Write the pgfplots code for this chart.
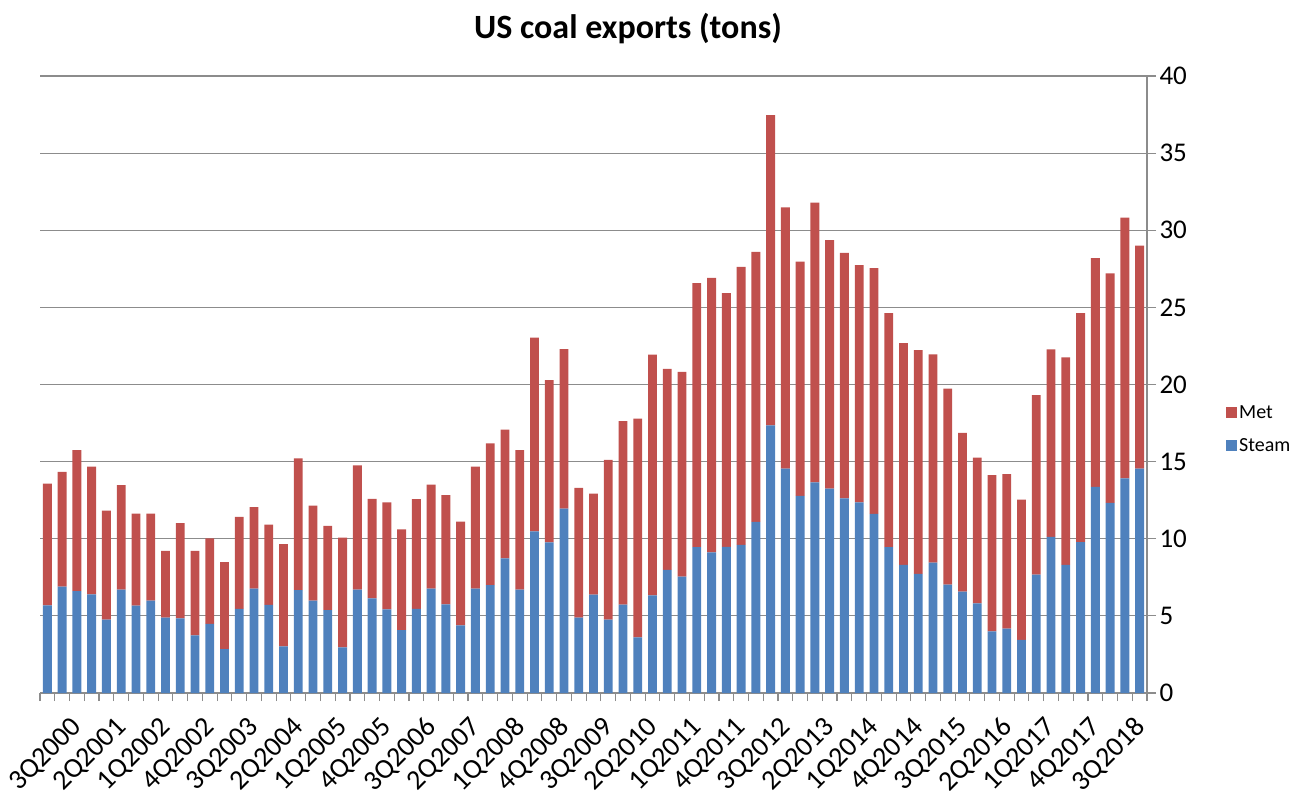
\documentclass[border=0pt]{standalone}
\usepackage{fontspec}
\setmainfont{Carlito}
\usepackage{pgfplots}
\usepackage{pgfplotstable}
\pgfplotsset{compat=1.18}
\definecolor{steam}{HTML}{4F81BD}
\definecolor{met}{HTML}{C0504D}
\definecolor{gridc}{RGB}{140,140,140}

\pgfplotstableread{
x steam met
1 5.68 7.90
2 6.89 7.45
3 6.60 9.15
4 6.39 8.28
5 4.76 7.06
6 6.70 6.77
7 5.66 5.97
8 5.99 5.64
9 4.88 4.34
10 4.83 6.18
11 3.73 5.49
12 4.48 5.54
13 2.85 5.64
14 5.45 5.97
15 6.77 5.28
16 5.71 5.21
17 3.02 6.63
18 6.67 8.54
19 5.99 6.16
20 5.38 5.45
21 2.95 7.12
22 6.70 8.06
23 6.13 6.46
24 5.42 6.94
25 4.08 6.53
26 5.45 7.12
27 6.77 6.74
28 5.75 7.08
29 4.39 6.72
30 6.77 7.90
31 7.00 9.18
32 8.73 8.35
33 6.70 9.05
34 10.47 12.57
35 9.76 10.52
36 11.96 10.33
37 4.88 8.42
38 6.38 6.55
39 4.76 10.35
40 5.73 11.89
41 3.60 14.19
42 6.33 15.61
43 7.99 13.03
44 7.54 13.28
45 9.45 17.13
46 9.11 17.81
47 9.48 16.45
48 9.60 18.02
49 11.09 17.50
50 17.35 20.12
51 14.54 16.95
52 12.78 15.19
53 13.65 18.14
54 13.25 16.11
55 12.61 15.93
56 12.36 15.38
57 11.61 15.93
58 9.45 15.17
59 8.31 14.37
60 7.72 14.51
61 8.46 13.50
62 7.02 12.71
63 6.58 10.29
64 5.81 9.45
65 4.00 10.12
66 4.17 10.02
67 3.45 9.08
68 7.67 11.64
69 10.12 12.16
70 8.31 13.45
71 9.78 14.84
72 13.37 14.82
73 12.33 14.87
74 13.92 16.90
75 14.54 14.47
}\datatable

\begin{document}
\begin{tikzpicture}[x=1pt,y=1pt]
\path[use as bounding box] (0,0) rectangle (1293,790);
\begin{axis}[
  at={(40pt,97pt)}, anchor=south west,
  width=1107pt, height=617pt, scale only axis,
  ybar stacked, bar width=0.6,
  xmin=0.5, xmax=75.5, ymin=0, ymax=40,
  ytick={0,5,...,40},
  yticklabel pos=right,
  ymajorgrids,
  major grid style={gridc, line width=1.1pt},
  axis x line*=bottom, axis y line*=right,
  axis line style={gridc, line width=1.1pt},
  tick align=outside,
  major tick length=9pt, minor tick length=8pt,
  tick style={gridc, line width=1.1pt},
  major x tick style={draw=none},
  xtick={3,6,...,75},
  xticklabels={3Q2000,2Q2001,1Q2002,4Q2002,3Q2003,2Q2004,1Q2005,4Q2005,3Q2006,2Q2007,1Q2008,4Q2008,3Q2009,2Q2010,1Q2011,4Q2011,3Q2012,2Q2013,1Q2014,4Q2014,3Q2015,2Q2016,1Q2017,4Q2017,3Q2018},
  minor xtick={0.5,1.5,...,75.5},
  xticklabel style={font=\fontsize{28}{28}\selectfont, yshift=-13pt, xshift=-7pt, rotate=45, anchor=north east, inner sep=0pt},
  yticklabel style={font=\fontsize{27}{27}\selectfont, xshift=0pt},
  /pgf/number format/assume math mode=true,
  legend style={at={(1.0714,0.469)}, anchor=north west, draw=none, fill=none,
    font=\fontsize{20}{20}\selectfont, row sep=14pt, inner sep=0pt,
    /tikz/every even column/.append style={column sep=4pt}},
  legend cell align=left,
  reverse legend,
  legend image code/.code={\fill[#1] (0pt,-5.5pt) rectangle (11pt,5.5pt);},
]
\addplot[fill=steam, draw=none] table[x=x, y=steam] {\datatable};
\addlegendentry{Steam}
\addplot[fill=met, draw=none] table[x=x, y=met] {\datatable};
\addlegendentry{Met}
\end{axis}
\node[font=\bfseries\fontsize{34}{34}\selectfont, anchor=base] at (628,751) {US coal exports (tons)};
\end{tikzpicture}
\end{document}
